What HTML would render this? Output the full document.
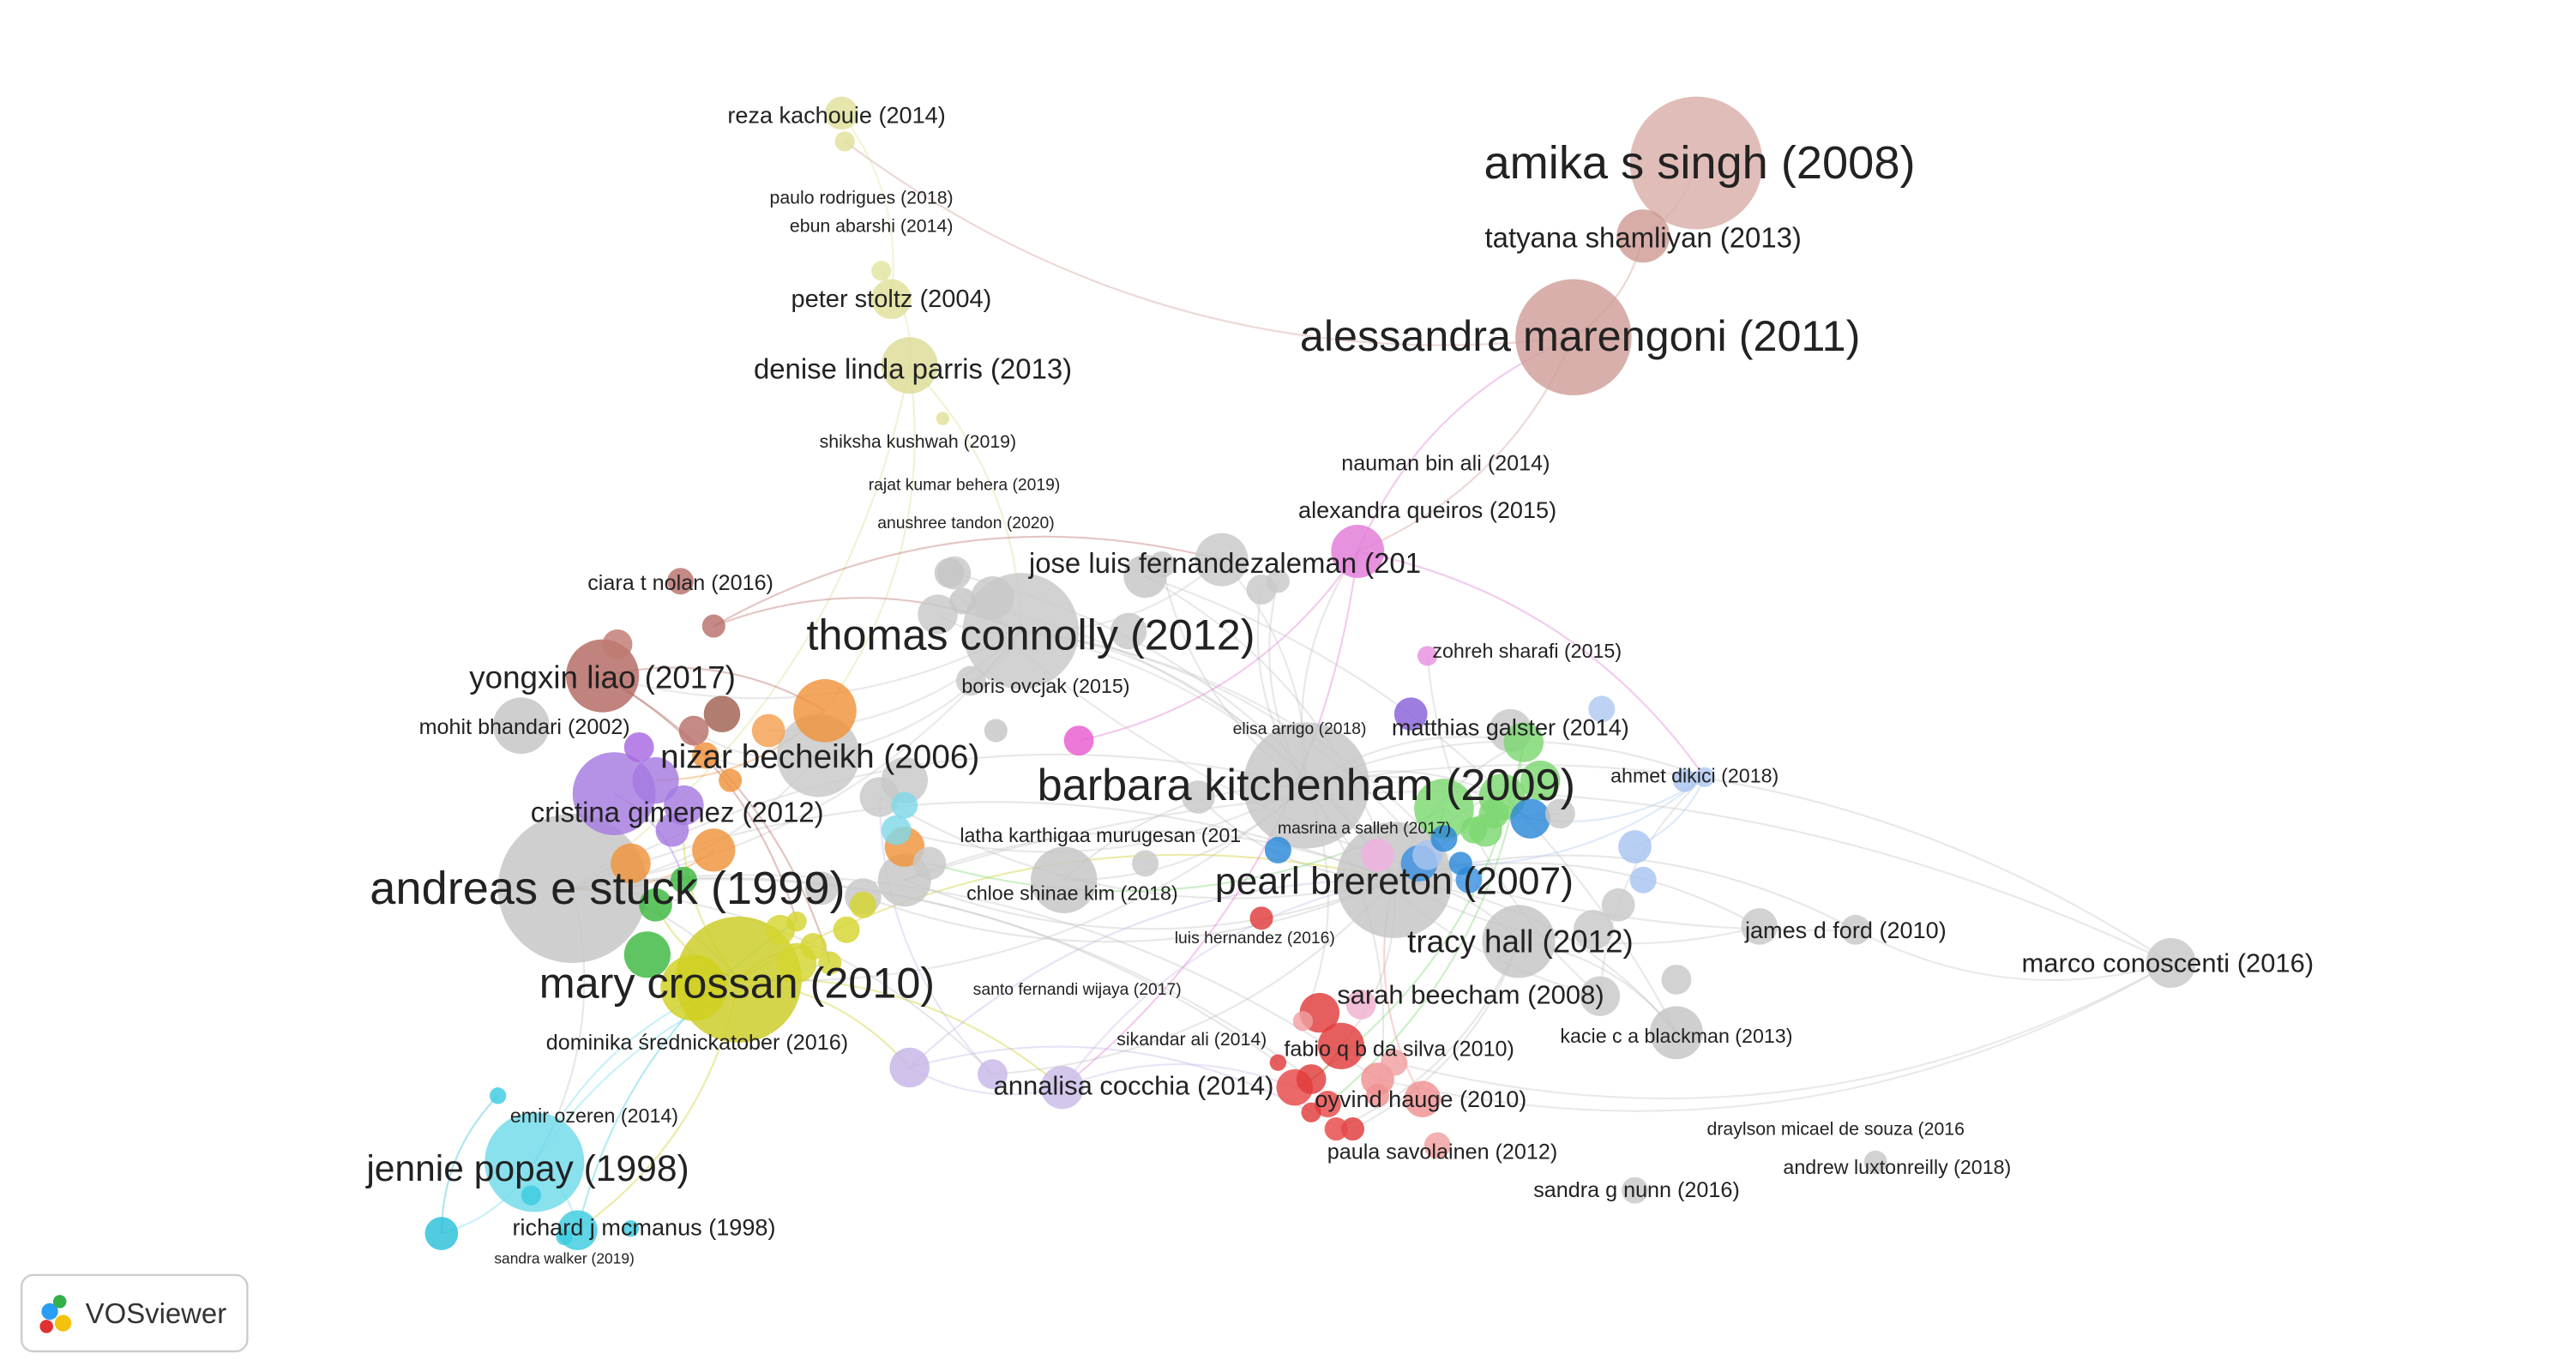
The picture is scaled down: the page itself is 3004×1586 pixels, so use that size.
<!DOCTYPE html>
<html><head><meta charset="utf-8"><style>
html,body{margin:0;padding:0;background:#fff;}
svg{display:block;}
text{font-family:"Liberation Sans Narrow","Liberation Sans",sans-serif;fill:#222;text-anchor:middle;dominant-baseline:central;}
</style></head><body>
<svg id="net" width="3004" height="1586" viewBox="0 0 1552 819" xmlns="http://www.w3.org/2000/svg">
<g id="edges"></g>
<g id="nodes"></g>
<g id="labels"></g>
<g>
<rect x="13" y="768" width="136" height="46" rx="7" fill="#fff" stroke="#ccc" stroke-width="1.2"/>
<circle cx="30" cy="790" r="5" fill="#2a9df4"/><circle cx="38" cy="797" r="5" fill="#f4c20d"/><circle cx="28" cy="799" r="4" fill="#e03030"/><circle cx="36" cy="784" r="4" fill="#34b04a"/>
<text x="94" y="791" style="font-size:17px;fill:#333;font-family:'Liberation Sans',sans-serif">VOSviewer</text>
</g>
</svg>
<script>
const nodeX=[1022,990,948,507,509,531,537,548,568,736,615,410,430,363,372,314,493,497,370,345,445,430,322,348,266,787,840,641,915,1308,1010,818,808,780,857,866,964,1027,1060,1118,918,870,922,855,640,598,548,545,690,572,580,600,650,722,385,418,463,540,495,510,520,545,910,888,985,990,965,1015,900,770,830,795,820,985,1130,860,545,435,390,480,850,760,690,
565,575,598,585,680,700,760,770,545,530,560,520,790,800,830,815,790,805,840,830,770,785,905,928,895,940,870,880,885,860,395,412,405,425,440,418,380,395,412,470,490,500,480,300,320,340,380,960,975,1010];
const nodeY=[98,142,203,68,85,163,180,220,252,337,380,350,377,407,388,437,455,428,478,535,590,512,700,741,743,473,530,530,567,580,622,332,630,655,662,690,600,468,558,560,447,487,493,520,655,647,643,530,347,345,362,440,446,480,450,595,440,500,535,560,545,510,440,500,510,530,427,470,490,512,515,610,605,717,700,395,485,430,575,580,430,553,520,
370,345,360,410,380,340,355,350,470,480,520,540,650,665,650,680,670,680,640,660,640,615,480,470,500,490,505,520,530,515,470,485,500,455,470,440,520,545,530,560,570,580,555,660,720,745,740,560,545,590];
const nodeR=[40,16,35,10,6,6,12,17,4,16,35,8,7,22,9,17,25,19,25,45,38,13,30,12,10,38,35,20,22,15,16,16,14,11,11,8,12,6,11,9,12,18,12,11,13,9,12,16,13,9,8,7,9,10,9,20,10,9,10,8,8,12,13,8,10,8,8,7,9,8,10,12,9,8,7,6,8,11,14,12,10,7,8,
12,10,13,9,11,8,9,7,14,12,10,11,9,8,10,7,6,7,8,7,5,6,14,12,10,9,8,7,8,9,14,12,10,8,7,9,12,10,8,9,8,7,6,5,6,5,5,12,10,9];
const nodeC=["#d9aea8","#cf9a94","#cf9e99","#e1e19a","#e1e19a","#e3e3a0","#dfdf9a","#dcdc96","#e1e19a","#c8c8c8","#c8c8c8","#b8706a","#b8706a","#b36860","#bf7a72","#c4c4c4","#c8c8c8","#f0923a","#a57ae0","#c4c4c4","#cccc25","#f0923a","#70dbea","#3ccce0","#2ac0d8","#c6c6c6","#c4c4c4","#c4c4c4","#c4c4c4","#c8c8c8","#c4c4c4","#e27ad8","#e03a3a","#e84848","#f09090","#f0a0a0","#c8c8c8","#b0c8f0","#c8c8c8","#c8c8c8","#7cd870","#7cd870","#2a88d8","#3a90e0","#cbbbe8","#c8b8e8","#c6b4e6","#c6c6c6","#c6c6c6","#c6c6c6","#c6c6c6","#c6c6c6","#e85ad0","#c8c8c8","#a868e0","#d0d020","#f4a050","#80d8e8","#c8c8c8","#d4d430","#d4d430","#f0923a","#c8c8c8","#7cd870","#a8c4f0","#a8c4f0","#b0c8f0","#a8c4f0","#7cd870","#2a88d8","#f0b0e0","#e03a3a","#f0b0d0","#c8c8c8","#c8c8c8","#e890e0","#80d8e8","#a06050","#3cb840","#d4d430","#8860d8","#e03a3a","#c8c8c8",
"#c8c8c8","#c8c8c8","#c8c8c8","#c8c8c8","#c8c8c8","#c8c8c8","#c8c8c8","#c8c8c8","#c8c8c8","#c8c8c8","#c8c8c8","#c8c8c8","#e03a3a","#e84848","#f09090","#e03a3a","#e03a3a","#e84848","#f0a0a0","#f09090","#e03a3a","#f0a0a0","#7cd870","#7cd870","#7cd870","#c8c8c8","#2a88d8","#2a88d8","#3a90e0","#a8c4f0","#a57ae0","#a57ae0","#a57ae0","#f0923a","#f0923a","#b8706a","#f0923a","#3cb840","#3cb840","#d4d430","#d4d430","#d4d430","#d4d430","#3ccce0","#3ccce0","#3ccce0","#3ccce0","#c8c8c8","#c8c8c8","#c8c8c8"];
const labelText=["amika s singh (2008)","tatyana shamliyan (2013)","alessandra marengoni (2011)","reza kachouie (2014)","paulo rodrigues (2018)","ebun abarshi (2014)","peter stoltz (2004)","denise linda parris (2013)","shiksha kushwah (2019)","rajat kumar behera (2019)","anushree tandon (2020)","jose luis fernandezaleman (201","thomas connolly (2012)","boris ovcjak (2015)","ciara t nolan (2016)","yongxin liao (2017)","mohit bhandari (2002)","nizar becheikh (2006)","cristina gimenez (2012)","andreas e stuck (1999)","mary crossan (2010)","dominika średnickatober (2016)","emir ozeren (2014)","jennie popay (1998)","richard j mcmanus (1998)","sandra walker (2019)","barbara kitchenham (2009)","latha karthigaa murugesan (201","masrina a salleh (2017)","pearl brereton (2007)","chloe shinae kim (2018)","matthias galster (2014)","elisa arrigo (2018)","ahmet dikici (2018)","nauman bin ali (2014)","alexandra queiros (2015)","zohreh sharafi (2015)","tracy hall (2012)","james d ford (2010)","marco conoscenti (2016)","sarah beecham (2008)","kacie c a blackman (2013)","luis hernandez (2016)","santo fernandi wijaya (2017)","sikandar ali (2014)","fabio q b da silva (2010)","oyvind hauge (2010)","paula savolainen (2012)","sandra g nunn (2016)","draylson micael de souza (2016","andrew luxtonreilly (2018)","annalisa cocchia (2014)"];
const labelX=[1024,990,952,504,519,525,537,550,553,581,582,738,621,630,410,363,316,494,408,366,444,420,358,318,388,340,787,663,822,840,646,910,783,1021,871,860,920,916,1112,1306,886,1010,756,649,718,843,856,869,986,1106,1143,683];
const labelY=[98,143,202,69,119,136,180,222,266,292,315,339,382,413,351,408,438,456,489,535,592,628,672,704,739,758,473,503,499,531,538,438,439,467,279,307,392,567,560,580,599,624,565,596,626,632,662,694,717,680,703,654];
const labelS=[28,17,26,14,11,11,15,17,11,10,10,17,26,12,13,19,13,20,17,28,26,13,12,22,14,9,27,12,10,23,12,14,10,12,13,14,12,19,14,16,16,12,10,10,11,13,14,13,13,11,12,16];
const edgeFrom=[0,1,2,2,3,5,7,7,10,10,10,10,25,25,25,25,25,26,26,26,19,19,19,20,20,22,22,26,26,26,28,29,41,26,25,10,16,13,19,20,31,31,34,26,32,25,36,38,27,44,46,47,48,49,10,7,12,25,21,
10,10,10,25,25,25,26,26,19,19,19,20,20,20,16,16,17,18,13,13,25,25,25,26,26,26,10,10,28,28,29,29,31,31,36,36,37,37,37,40,40,41,44,44,45,46,9,9,12,22,23,22,24,48,50,47,39,19,20,26,25];
const edgeTo=[1,2,31,4,6,7,10,19,16,25,26,19,26,29,31,42,40,28,32,40,22,20,25,23,44,23,24,38,39,30,30,39,26,45,20,13,19,17,26,26,37,2,26,47,33,37,25,26,25,26,26,26,26,26,56,17,10,27,19,
83,84,86,88,89,90,92,94,95,97,103,114,120,123,116,118,113,121,124,125,102,104,105,106,108,110,111,112,98,100,101,97,52,44,37,75,42,43,64,96,95,93,46,33,92,99,25,10,9,124,125,20,126,30,26,29,50,45,46,53,57];
const ns="http://www.w3.org/2000/svg";
const E=document.getElementById('edges'),N=document.getElementById('nodes'),L=document.getElementById('labels');
for(let i=0;i<edgeFrom.length;i++){
 const a=edgeFrom[i],b=edgeTo[i];
 if(nodeX[a]===undefined||nodeX[b]===undefined)continue;
 const x1=nodeX[a],y1=nodeY[a],x2=nodeX[b],y2=nodeY[b];
 const mx=(x1+x2)/2+(y2-y1)*0.2,my=(y1+y2)/2-(x2-x1)*0.2;
 const p=document.createElementNS(ns,'path');
 p.setAttribute('d',`M${x1},${y1} Q${mx},${my} ${x2},${y2}`);
 p.setAttribute('fill','none');p.setAttribute('stroke',nodeC[a]);p.setAttribute('stroke-opacity','0.4');p.setAttribute('stroke-width','1.1');
 
 
 E.appendChild(p);
}
const order=nodeR.map((r,i)=>i).sort((a,b)=>nodeR[b]-nodeR[a]);
for(const i of order){
 const c=document.createElementNS(ns,'circle');
 c.setAttribute('cx',nodeX[i]);c.setAttribute('cy',nodeY[i]);c.setAttribute('r',nodeR[i]);
 c.setAttribute('fill',nodeC[i]);c.setAttribute('fill-opacity','0.82');
 
 
 N.appendChild(c);
}
for(let i=0;i<labelText.length;i++){
 const t=document.createElementNS(ns,'text');
 t.setAttribute('x',labelX[i]);t.setAttribute('y',labelY[i]);
 t.style.fontSize=labelS[i]+'px';
 t.textContent=labelText[i];
 
 
 L.appendChild(t);
}
</script>
</body></html>
